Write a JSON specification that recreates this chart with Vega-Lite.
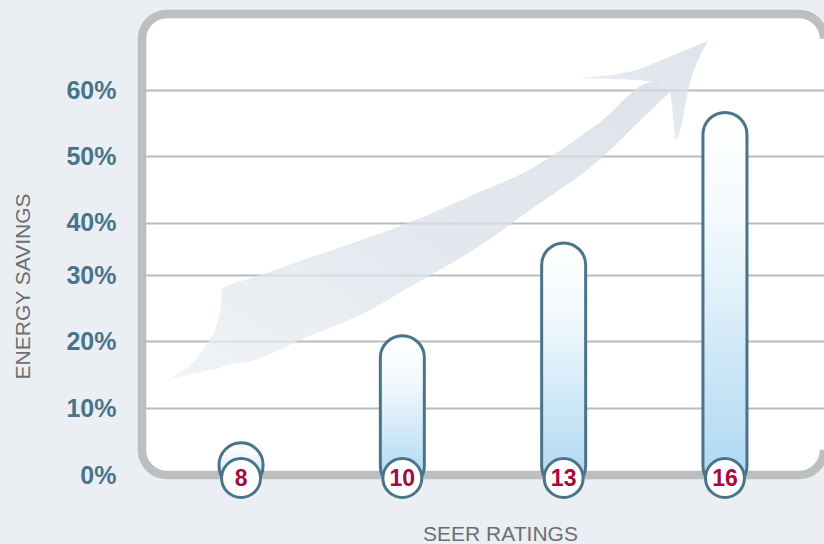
{
  "$schema": "https://vega.github.io/schema/vega-lite/v6.json",
  "width": 682,
  "height": 461,
  "autosize": {"type": "none"},
  "padding": {"left": 142, "top": 14, "right": 0, "bottom": 69},
  "background": "#ebeff3",
  "view": {"fill": "#ffffff", "stroke": "#bcbec0", "strokeWidth": 8.5, "cornerRadius": 25, "strokeDash": [671, 411, 3000, 0], "strokeDashOffset": 0},
  "config": {
    "font": "Liberation Sans"
  },
  "datasets": {
    "savings": [
      {"seer": 8, "savings": 4.8},
      {"seer": 10, "savings": 20.8},
      {"seer": 13, "savings": 36.1},
      {"seer": 16, "savings": 56.6}
    ],
    "arrow": [
      {"part": "shaft", "ax": 3.37, "top": 20.6, "bottom": 20.6},
      {"part": "shaft", "ax": 9.24, "top": 27.77, "bottom": 22.56},
      {"part": "shaft", "ax": 11.43, "top": 35.14, "bottom": 23.21},
      {"part": "shaft", "ax": 11.73, "top": 40.35, "bottom": 23.43},
      {"part": "shaft", "ax": 16.57, "top": 42.95, "bottom": 24.95},
      {"part": "shaft", "ax": 23.17, "top": 46.42, "bottom": 29.28},
      {"part": "shaft", "ax": 33.43, "top": 51.63, "bottom": 35.79},
      {"part": "shaft", "ax": 39.0, "top": 54.66, "bottom": 40.56},
      {"part": "shaft", "ax": 50.15, "top": 61.8, "bottom": 50.33},
      {"part": "shaft", "ax": 55.87, "top": 65.51, "bottom": 56.4},
      {"part": "shaft", "ax": 67.01, "top": 76.36, "bottom": 68.33},
      {"part": "shaft", "ax": 74.93, "top": 85.25, "bottom": 79.61},
      {"part": "shaft", "ax": 77.42, "top": 83.08, "bottom": 83.08},
      {"part": "head", "ax": 63.93, "top": 86.12, "bottom": 86.12},
      {"part": "head", "ax": 72.58, "top": 87.85, "bottom": 85.68},
      {"part": "head", "ax": 74.93, "top": 89.26, "bottom": 85.25},
      {"part": "head", "ax": 77.42, "top": 90.78, "bottom": 83.08},
      {"part": "head", "ax": 78.3, "top": 91.32, "bottom": 72.67},
      {"part": "head", "ax": 80.5, "top": 92.62, "bottom": 85.9},
      {"part": "head", "ax": 82.99, "top": 94.14, "bottom": 94.14}
    ]
  },
  "layer": [
    {
      "data": {"name": "arrow"},
      "mark": {
        "type": "area",
        "opacity": 0.75,
        "interpolate": "monotone",
        "fill": {
          "gradient": "linear", "x1": 0, "y1": 1, "x2": 1, "y2": 0,
          "stops": [
            {"offset": 0, "color": "#eceff3"},
            {"offset": 0.5, "color": "#dae1e9"},
            {"offset": 1, "color": "#d3dbe5"}
          ]
        }
      },
      "encoding": {
        "x": {"field": "ax", "type": "quantitative", "scale": {"domain": [0, 100], "nice": false, "zero": false}, "axis": null},
        "y": {"field": "top", "type": "quantitative", "scale": {"domain": [0, 100], "nice": false}, "axis": null},
        "y2": {"field": "bottom"},
        "detail": {"field": "part"}
      }
    },
    {
      "data": {"name": "savings"},
      "layer": [
        {
          "mark": {
            "type": "bar",
            "width": 44,
            "cornerRadius": 22,
            "y2Offset": 13,
            "stroke": "#4a7489",
            "strokeWidth": 3,
            "fill": {
              "gradient": "linear", "x1": 0, "y1": 0, "x2": 0, "y2": 1,
              "stops": [
                {"offset": 0, "color": "#ffffff"},
                {"offset": 0.3, "color": "#f2f9fd"},
                {"offset": 1, "color": "#acd7f1"}
              ]
            }
          },
          "encoding": {
            "x": {
              "field": "seer", "type": "ordinal",
              "scale": {"type": "point", "padding": 0.614, "align": 0.5},
              "axis": {
                "title": "SEER RATINGS", "labels": false, "ticks": false, "domain": false, "grid": false,
                "titleX": 358, "titleY": 59, "titleBaseline": "middle", "titleAlign": "center",
                "titleFont": "Liberation Sans", "titleFontSize": 21, "titleFontWeight": "normal", "titleColor": "#6d6e71"
              }
            },
            "y": {
              "field": "savings", "type": "quantitative",
              "scale": {"domain": [0, 10, 20, 30, 40, 50, 60], "range": [461, 394, 327, 261, 208.5, 142, 76]},
              "axis": {
                "values": [0, 10, 20, 30, 40, 50, 60],
                "labelExpr": "datum.value + '%'",
                "title": "ENERGY SAVINGS",
                "grid": true, "gridColor": "#b9bbbe", "gridWidth": 2,
                "gridOpacity": {"condition": {"test": "datum.value === 0", "value": 0}, "value": 1},
                "domain": false, "ticks": false,
                "labelPadding": 26, "labelFont": "Liberation Sans", "labelFontSize": 25, "labelFontWeight": "bold", "labelColor": "#4a7489",
                "labelOverlap": false,
                "titleX": -119, "titleY": 272, "titleAngle": 270, "titleAlign": "center", "titleBaseline": "middle",
                "titleFont": "Liberation Sans", "titleFontSize": 21, "titleFontWeight": "normal", "titleColor": "#6d6e71"
              }
            },
            "y2": {"datum": 0}
          }
        },
        {
          "mark": {"type": "point", "shape": "circle", "filled": true, "fill": "#ffffff", "stroke": "#4a7489", "strokeWidth": 3, "size": 1520, "opacity": 1, "yOffset": 3},
          "encoding": {
            "x": {"field": "seer", "type": "ordinal"},
            "y": {"datum": 0}
          }
        },
        {
          "mark": {"type": "text", "font": "Liberation Sans", "fontSize": 23, "fontWeight": "bold", "color": "#a6093d", "baseline": "middle", "align": "center", "yOffset": 4},
          "encoding": {
            "x": {"field": "seer", "type": "ordinal"},
            "y": {"datum": 0},
            "text": {"field": "seer"}
          }
        }
      ]
    }
  ],
  "resolve": {"scale": {"x": "independent", "y": "independent"}}
}
